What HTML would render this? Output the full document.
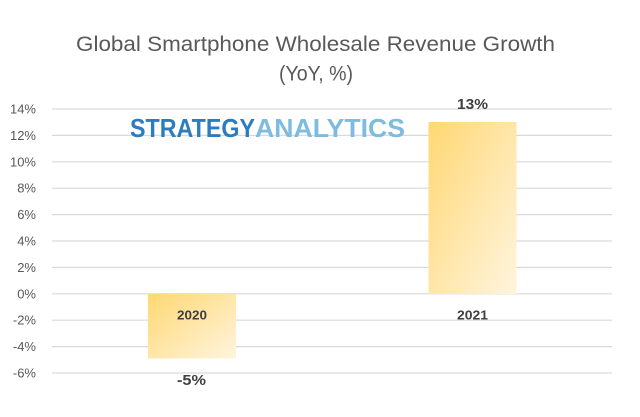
<!DOCTYPE html>
<html><head><meta charset="utf-8"><style>
html,body{margin:0;padding:0;background:#fff;}
svg{display:block;}
</style></head><body>
<svg width="640" height="417" viewBox="0 0 640 417" xmlns="http://www.w3.org/2000/svg">
<defs>
<linearGradient id="g" x1="0" y1="0" x2="1" y2="1">
<stop offset="0" stop-color="#ffd873"/>
<stop offset="1" stop-color="#fff4de"/>
</linearGradient>
<linearGradient id="g2" x1="0" y1="0" x2="1" y2="1">
<stop offset="0" stop-color="#ffd873"/>
<stop offset="1" stop-color="#fff4de"/>
</linearGradient>
</defs>
<rect width="640" height="417" fill="#fff"/>
<g font-family="Liberation Sans, sans-serif" fill="#595959">
<text x="315.5" y="51" font-size="21" text-anchor="middle" textLength="479" lengthAdjust="spacingAndGlyphs">Global Smartphone Wholesale Revenue Growth</text>
<text x="316" y="80.5" font-size="21" text-anchor="middle" textLength="74" lengthAdjust="spacingAndGlyphs">(YoY, %)</text>
</g>
<g stroke="#d9d9d9" stroke-width="1.2">
<line x1="52" x2="612" y1="109" y2="109"/>
<line x1="52" x2="612" y1="135.4" y2="135.4"/>
<line x1="52" x2="612" y1="161.8" y2="161.8"/>
<line x1="52" x2="612" y1="188.2" y2="188.2"/>
<line x1="52" x2="612" y1="214.6" y2="214.6"/>
<line x1="52" x2="612" y1="241" y2="241"/>
<line x1="52" x2="612" y1="267.4" y2="267.4"/>
<line x1="52" x2="612" y1="293.8" y2="293.8"/>
<line x1="52" x2="612" y1="320.2" y2="320.2"/>
<line x1="52" x2="612" y1="346.6" y2="346.6"/>
<line x1="52" x2="612" y1="373" y2="373"/>
</g>
<g font-family="Liberation Sans, sans-serif" font-size="13" fill="#595959" text-anchor="end">
<text x="36" y="113.5">14%</text>
<text x="36" y="139.9">12%</text>
<text x="36" y="166.3">10%</text>
<text x="36" y="192.7">8%</text>
<text x="36" y="219.1">6%</text>
<text x="36" y="245.5">4%</text>
<text x="36" y="271.9">2%</text>
<text x="36" y="298.3">0%</text>
<text x="36" y="324.7">-2%</text>
<text x="36" y="351.1">-4%</text>
<text x="36" y="377.5">-6%</text>
</g>
<g font-family="Liberation Sans, sans-serif" font-weight="bold" font-size="26">
<text x="130" y="137" fill="#2c7cc0" textLength="125" lengthAdjust="spacingAndGlyphs">STRATEGY</text>
<text x="255" y="137" fill="#7dbcdf" textLength="150" lengthAdjust="spacingAndGlyphs">ANALYTICS</text>
</g>
<rect x="148" y="294" width="88" height="64.5" fill="url(#g)"/>
<rect x="428.5" y="122" width="88" height="172" fill="url(#g2)"/>
<g font-family="Liberation Sans, sans-serif" font-weight="bold" fill="#404040" text-anchor="middle">
<text x="192" y="319.5" font-size="12.5" textLength="30" lengthAdjust="spacingAndGlyphs">2020</text>
<text x="472.5" y="319.5" font-size="12.5" textLength="31" lengthAdjust="spacingAndGlyphs">2021</text>
<text x="472.5" y="109" font-size="15" textLength="31" lengthAdjust="spacingAndGlyphs">13%</text>
<text x="191.5" y="385" font-size="15" textLength="29" lengthAdjust="spacingAndGlyphs">-5%</text>
</g>
</svg>
</body></html>
